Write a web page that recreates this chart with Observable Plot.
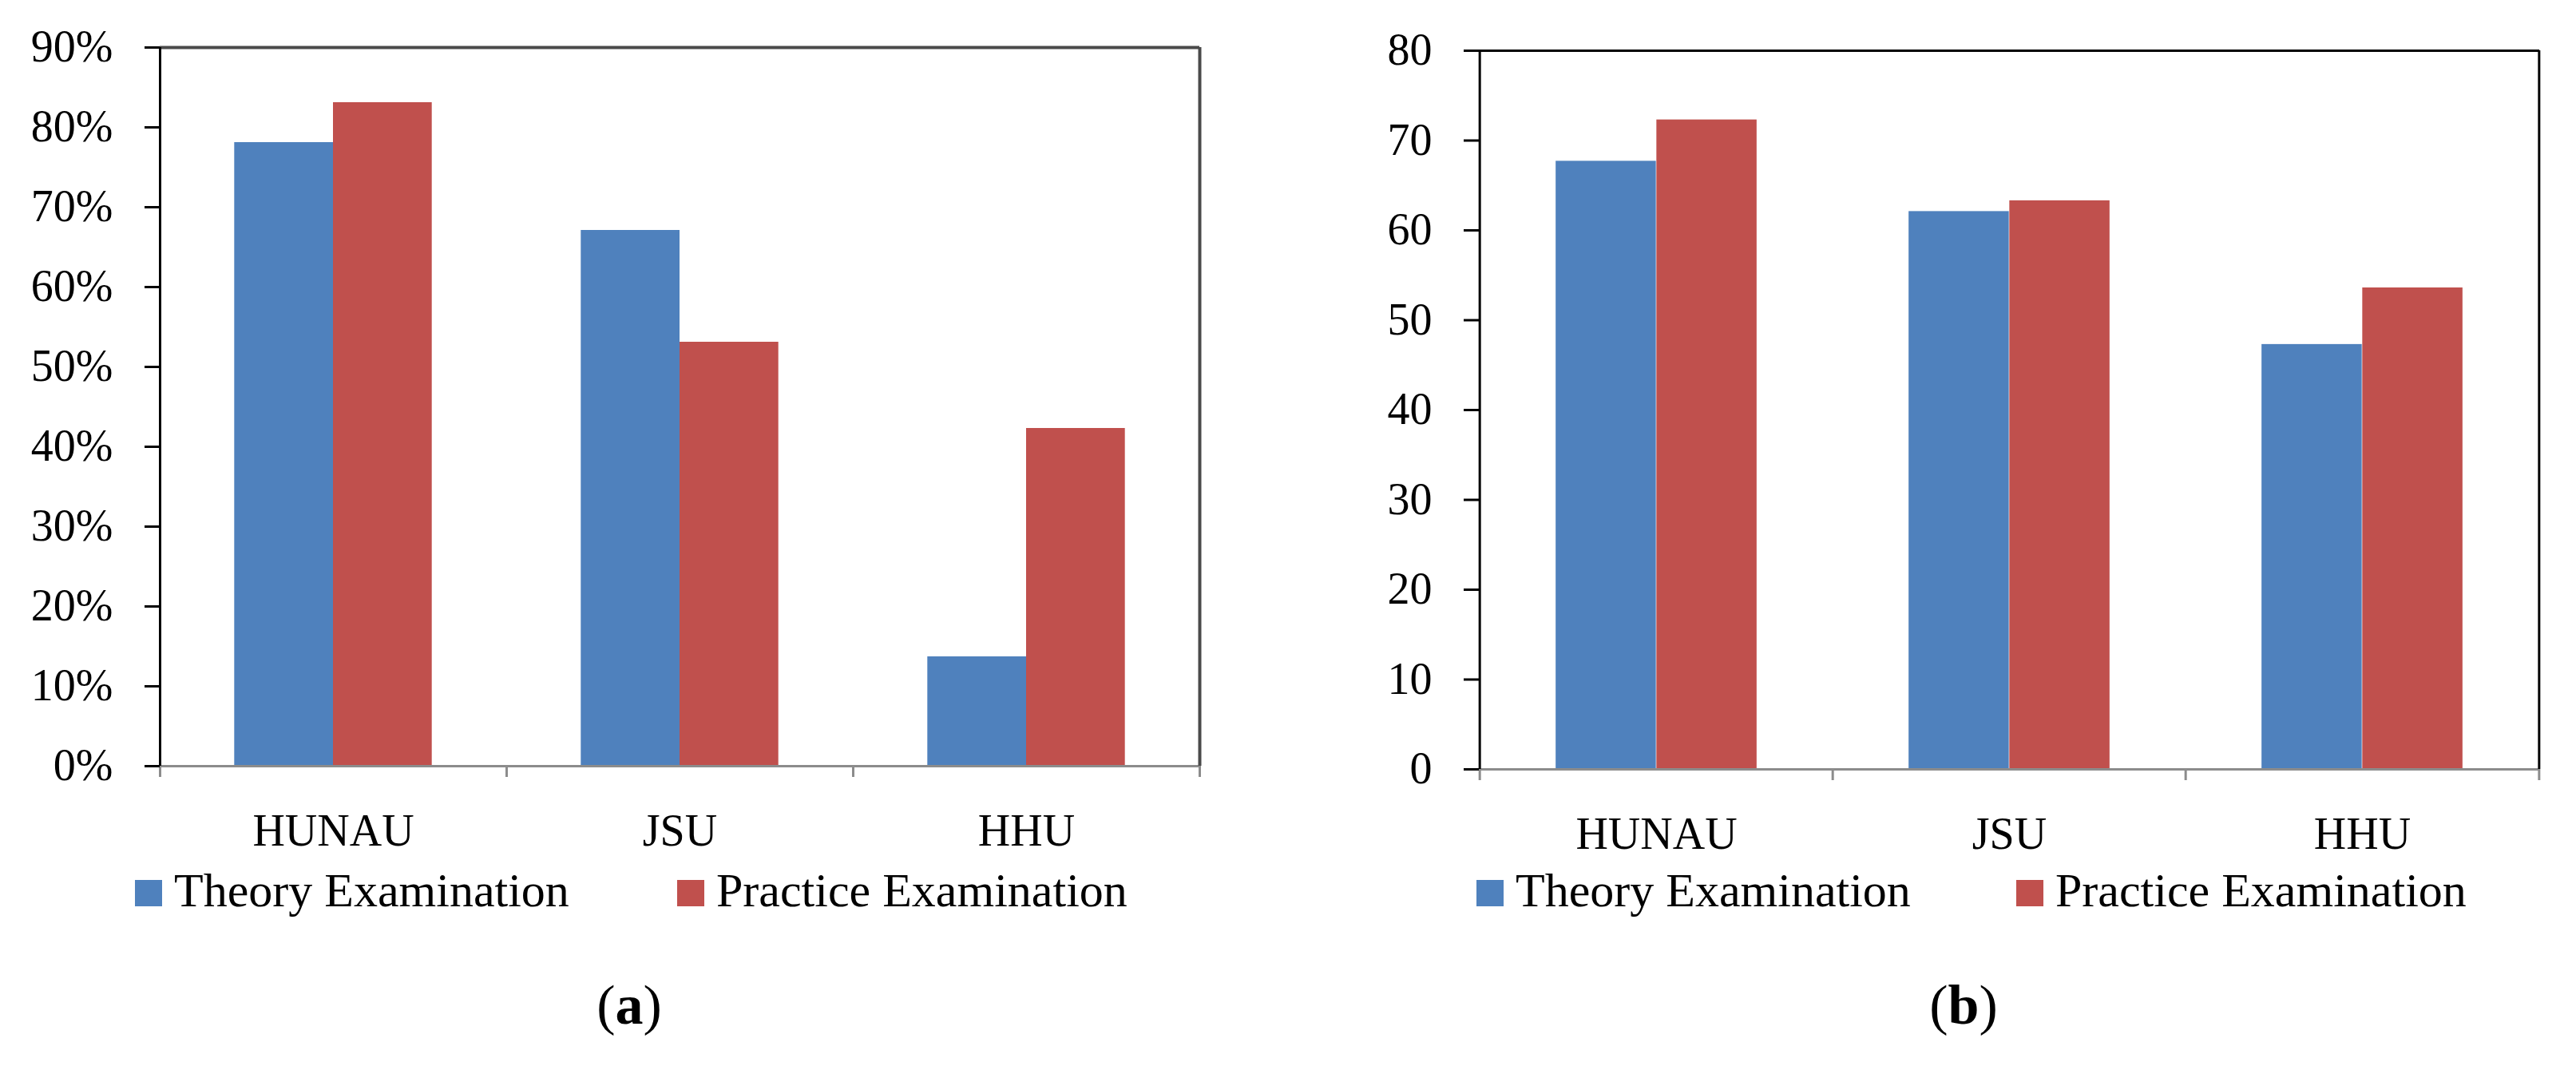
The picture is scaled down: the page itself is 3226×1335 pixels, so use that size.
<!DOCTYPE html>
<html><head><meta charset="utf-8">
<script src="https://cdn.jsdelivr.net/npm/d3@7"></script>
<script src="https://cdn.jsdelivr.net/npm/@observablehq/plot@0.6"></script>
<style>
body{margin:0;background:#fff;font-family:"Liberation Serif",serif;color:#000;}
#wrap{position:relative;width:3226px;height:1335px;overflow:hidden;}
.panel{position:absolute;top:0;width:1613px;height:1335px;}
.panel svg{position:absolute;left:0;top:0;}
.leg{position:absolute;display:flex;align-items:center;height:66px;font-size:60px;line-height:66px;white-space:nowrap;}
.sw{display:inline-block;width:34px;height:33px;margin-right:15px;margin-top:6px;}
.cap{position:absolute;font-size:70px;line-height:80px;transform:translateX(-50%);white-space:nowrap;}
</style></head><body>
<div id="wrap"></div>
<script>
// ---- data ----
const universities = ["HUNAU", "JSU", "HHU"];
const seriesNames = ["Theory Examination", "Practice Examination"];
const seriesColors = ["#4F81BD", "#C0504D"];
// (a) pass rate
const passTheory = [0.781, 0.671, 0.137];
const passPractice = [0.831, 0.531, 0.423];
const ticksA = [0, 0.1, 0.2, 0.3, 0.4, 0.5, 0.6, 0.7, 0.8, 0.9];
// (b) average score
const scoreTheory = [67.7, 62.1, 47.3];
const scorePractice = [72.3, 63.3, 53.6];
const ticksB = [0, 10, 20, 30, 40, 50, 60, 70, 80];

function rows(theory, practice) {
  const out = [];
  universities.forEach((u, i) => {
    out.push({uni: u, series: seriesNames[0], value: theory[i]});
    out.push({uni: u, series: seriesNames[1], value: practice[i]});
  });
  return out;
}

function panel(cfg) {
  const W = 1613, H = 1085;
  const B = (W - cfg.ml - cfg.mr) / universities.length;
  const gap = B * 0.215, bw = B * 0.285;
  const data = rows(cfg.theory, cfg.practice);
  const ymax = cfg.ticks[cfg.ticks.length - 1];
  const svg = Plot.plot({
    width: W, height: H,
    marginLeft: cfg.ml, marginRight: cfg.mr, marginTop: cfg.mt, marginBottom: H - cfg.bottom,
    style: {fontFamily: "Liberation Serif", background: "white", color: "#000"},
    x: {domain: universities, padding: 0, label: null},
    y: {domain: [0, ymax], label: null},
    marks: [
      Plot.barY(data.filter(d => d.series === seriesNames[0]), {x: "uni", y: "value", fill: seriesColors[0], insetLeft: gap, insetRight: gap + bw}),
      Plot.barY(data.filter(d => d.series === seriesNames[1]), {x: "uni", y: "value", fill: seriesColors[1], insetLeft: gap + bw, insetRight: gap}),
      // bottom axis line
      Plot.ruleY([0], {stroke: "#8c8c8c", strokeWidth: 3}),
      // category boundary ticks
      Plot.ruleX(universities, {x: d => d, y1: () => 0, y2: () => 0, dx: -B / 2, insetBottom: -14, stroke: "#8c8c8c", strokeWidth: 3}),
      Plot.ruleX([universities[universities.length - 1]], {x: d => d, y1: () => 0, y2: () => 0, dx: B / 2, insetBottom: -14, stroke: "#8c8c8c", strokeWidth: 3}),
      // frame
      Plot.ruleY([ymax], {stroke: cfg.frameColor, strokeWidth: cfg.frameWidth}),
      Plot.ruleX([universities[universities.length - 1]], {x: d => d, dx: B / 2, stroke: cfg.frameColor, strokeWidth: cfg.frameWidth}),
      Plot.ruleX([universities[0]], {x: d => d, dx: -B / 2, stroke: "#000", strokeWidth: 3}),
      Plot.axisY(cfg.ticks, {tickSize: 19, tickPadding: 40, tickFormat: cfg.fmt, fontSize: 56, stroke: "#000", strokeWidth: 3, fill: "#000", label: null}),
      Plot.axisX({tickSize: 0, tickPadding: 60, fontSize: 56, fill: "#000", label: null})
    ]
  });
  const div = document.createElement("div");
  div.className = "panel";
  div.style.left = cfg.left + "px";
  div.appendChild(svg);
  cfg.legend.forEach((lx, i) => {
    const l = document.createElement("div");
    l.className = "leg";
    l.style.left = lx + "px";
    l.style.top = cfg.legTop + "px";
    const sw = document.createElement("span");
    sw.className = "sw";
    sw.style.background = seriesColors[i];
    l.appendChild(sw);
    l.appendChild(document.createTextNode(seriesNames[i]));
    div.appendChild(l);
  });
  const cap = document.createElement("div");
  cap.className = "cap";
  cap.style.left = cfg.capX + "px";
  cap.style.top = "1219px";
  cap.innerHTML = "(<b>" + cfg.capLetter + "</b>)";
  div.appendChild(cap);
  document.getElementById("wrap").appendChild(div);
}

panel({left: 0, ml: 200, mr: 111, mt: 59, bottom: 959, theory: passTheory, practice: passPractice,
  ticks: ticksA, fmt: d3.format(".0%"), frameColor: "#4a4a4a", frameWidth: 4,
  legend: [169, 848], legTop: 1082, capX: 788, capLetter: "a"});
panel({left: 1613, ml: 239, mr: 46, mt: 63, bottom: 963, theory: scoreTheory, practice: scorePractice,
  ticks: ticksB, fmt: d3.format("d"), frameColor: "#000", frameWidth: 3,
  legend: [236, 912], legTop: 1082, capX: 846, capLetter: "b"});
</script>
</body></html>
